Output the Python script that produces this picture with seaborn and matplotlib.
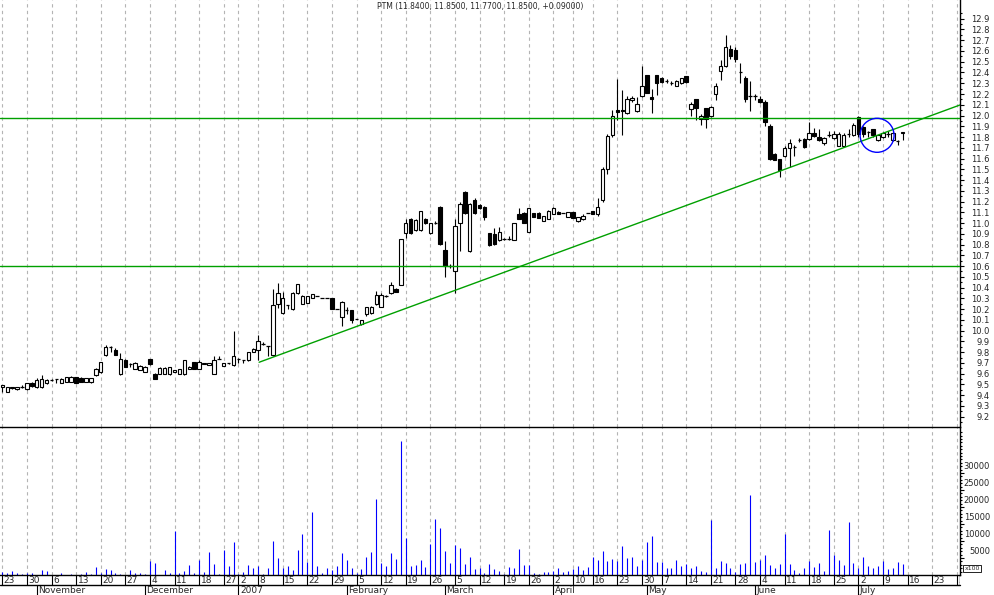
import matplotlib
matplotlib.use("Agg")
from matplotlib import pyplot as plt
from matplotlib.patches import Ellipse
from matplotlib.ticker import FixedLocator, FormatStrFormatter
import pandas as pd
import seaborn as sns

# daily candles, index 0 = 23 Oct 2006 ... 183 = 13 Jul 2007
opens = [9.48, 9.43, 9.475, 9.455, 9.48, 9.455, 9.51, 9.475, 9.48, 9.51,
         9.54, 9.55, 9.51, 9.52, 9.525, 9.565, 9.56, 9.525, 9.52, 9.59,
         9.62, 9.77, 9.85, 9.82, 9.60, 9.73, 9.69, 9.64, 9.635, 9.62,
         9.735, 9.60, 9.60, 9.60, 9.60, 9.62, 9.60, 9.60, 9.64, 9.71,
         9.64, 9.69, 9.68, 9.60, 9.74, 9.67, 9.70, 9.68, 9.74, 9.73,
         9.73, 9.80, 9.82, 9.88, 9.86, 9.77, 10.25, 10.16, 10.24, 10.20,
         10.35, 10.25, 10.26, 10.30, 10.32, 10.30, 10.30, 10.30, 10.20, 10.13,
         10.19, 10.19, 10.11, 10.06, 10.15, 10.16, 10.25, 10.22, 10.32, 10.35,
         10.39, 10.42, 10.91, 11.04, 10.94, 10.94, 11.04, 10.91, 11.00, 11.15,
         10.75, 10.60, 10.55, 11.00, 11.29, 10.74, 11.21, 11.17, 11.15, 10.91,
         10.90, 10.84, 10.85, 10.85, 10.84, 11.08, 11.09, 10.92, 11.09, 11.09,
         11.02, 11.04, 11.08, 11.10, 11.09, 11.06, 11.10, 11.02, 11.035, 11.09,
         11.11, 11.08, 11.21, 11.50, 11.82, 12.05, 12.05, 12.02, 12.14, 12.04,
         12.18, 12.38, 12.17, 12.38, 12.35, 12.32, 12.30, 12.275, 12.30, 12.37,
         12.06, 12.15, 11.97, 12.07, 12.00, 12.20, 12.41, 12.46, 12.62, 12.61,
         12.40, 12.35, 12.18, 12.18, 12.15, 12.13, 11.90, 11.64, 11.60, 11.62,
         11.70, 11.71, 11.77, 11.78, 11.78, 11.84, 11.80, 11.74, 11.82, 11.79,
         11.72, 11.72, 11.83, 11.82, 11.99, 11.89, 11.85, 11.87, 11.77, 11.80,
         11.83, 11.77, 11.76, 11.84]
highs = [9.49, 9.48, 9.48, 9.48, 9.49, 9.51, 9.52, 9.56, 9.59, 9.55,
         9.55, 9.55, 9.56, 9.57, 9.58, 9.57, 9.57, 9.56, 9.56, 9.65,
         9.71, 9.87, 9.86, 9.84, 9.79, 9.74, 9.70, 9.71, 9.68, 9.67,
         9.74, 9.61, 9.66, 9.66, 9.66, 9.63, 9.64, 9.73, 9.67, 9.71,
         9.73, 9.70, 9.70, 9.76, 9.76, 9.70, 9.70, 10.00, 9.75, 9.73,
         9.80, 9.84, 9.96, 9.89, 9.86, 10.39, 10.44, 10.36, 10.24, 10.36,
         10.43, 10.33, 10.32, 10.34, 10.32, 10.30, 10.30, 10.30, 10.20, 10.28,
         10.22, 10.19, 10.11, 10.10, 10.22, 10.23, 10.37, 10.35, 10.33, 10.45,
         10.40, 10.85, 11.04, 11.05, 11.04, 11.11, 11.05, 11.00, 11.02, 11.16,
         10.83, 10.62, 11.04, 11.20, 11.30, 11.19, 11.23, 11.18, 11.16, 10.91,
         10.95, 10.96, 10.86, 10.88, 11.00, 11.14, 11.10, 11.14, 11.09, 11.10,
         11.07, 11.12, 11.15, 11.11, 11.09, 11.10, 11.10, 11.06, 11.08, 11.09,
         11.11, 11.23, 11.52, 11.83, 12.05, 12.34, 12.24, 12.18, 12.18, 12.17,
         12.46, 12.38, 12.25, 12.38, 12.36, 12.34, 12.32, 12.33, 12.35, 12.37,
         12.13, 12.15, 12.01, 12.07, 12.09, 12.30, 12.52, 12.75, 12.66, 12.64,
         12.49, 12.37, 12.32, 12.20, 12.18, 12.14, 11.92, 11.65, 11.60, 11.72,
         11.78, 11.73, 11.79, 11.79, 11.94, 11.88, 11.87, 11.80, 11.86, 11.86,
         11.85, 11.84, 11.87, 11.93, 12.00, 11.90, 11.86, 11.87, 11.82, 11.85,
         11.86, 11.86, 11.77, 11.85]
lows = [9.43, 9.43, 9.46, 9.45, 9.47, 9.45, 9.48, 9.47, 9.47, 9.50,
        9.53, 9.51, 9.51, 9.52, 9.52, 9.51, 9.52, 9.52, 9.51, 9.58,
        9.61, 9.76, 9.80, 9.77, 9.59, 9.66, 9.66, 9.64, 9.63, 9.62,
        9.68, 9.55, 9.60, 9.60, 9.59, 9.62, 9.60, 9.59, 9.64, 9.64,
        9.64, 9.69, 9.68, 9.60, 9.74, 9.67, 9.69, 9.67, 9.70, 9.70,
        9.72, 9.80, 9.73, 9.87, 9.76, 9.76, 10.21, 10.15, 10.20, 10.19,
        10.34, 10.25, 10.26, 10.30, 10.32, 10.30, 10.30, 10.20, 10.20, 10.04,
        10.15, 10.07, 10.11, 10.05, 10.14, 10.15, 10.24, 10.22, 10.31, 10.34,
        10.36, 10.42, 10.86, 10.90, 10.93, 10.93, 10.99, 10.90, 10.99, 10.80,
        10.50, 10.58, 10.35, 10.74, 11.08, 10.73, 11.08, 11.13, 11.03, 10.79,
        10.80, 10.83, 10.84, 10.84, 10.84, 11.04, 11.00, 10.92, 11.06, 11.05,
        11.02, 11.04, 11.08, 11.08, 11.09, 11.06, 11.05, 11.01, 11.03, 11.09,
        11.08, 11.07, 11.20, 11.46, 11.80, 11.96, 11.82, 12.01, 12.13, 12.03,
        12.17, 12.21, 12.02, 12.19, 12.30, 12.30, 12.28, 12.27, 12.29, 12.30,
        12.00, 11.96, 11.91, 11.88, 11.99, 12.14, 12.33, 12.45, 12.53, 12.50,
        12.30, 12.13, 12.04, 12.14, 12.12, 11.90, 11.59, 11.59, 11.43, 11.61,
        11.52, 11.62, 11.75, 11.70, 11.77, 11.80, 11.76, 11.73, 11.80, 11.78,
        11.72, 11.71, 11.80, 11.81, 11.80, 11.80, 11.80, 11.80, 11.76, 11.79,
        11.80, 11.76, 11.73, 11.77]
closes = [9.49, 9.48, 9.47, 9.48, 9.48, 9.51, 9.485, 9.54, 9.55, 9.54,
          9.54, 9.55, 9.55, 9.57, 9.565, 9.51, 9.52, 9.555, 9.56, 9.64,
          9.71, 9.85, 9.85, 9.77, 9.74, 9.665, 9.69, 9.70, 9.67, 9.665,
          9.69, 9.55, 9.65, 9.65, 9.66, 9.63, 9.64, 9.73, 9.665, 9.64,
          9.71, 9.70, 9.70, 9.73, 9.74, 9.70, 9.70, 9.76, 9.74, 9.73,
          9.80, 9.83, 9.90, 9.88, 9.86, 10.24, 10.35, 10.30, 10.24, 10.35,
          10.43, 10.32, 10.32, 10.34, 10.32, 10.30, 10.30, 10.20, 10.20, 10.27,
          10.19, 10.10, 10.11, 10.10, 10.22, 10.22, 10.33, 10.33, 10.32, 10.42,
          10.36, 10.85, 11.00, 10.91, 11.03, 11.11, 11.00, 11.00, 11.00, 10.81,
          10.60, 10.60, 10.97, 11.18, 11.09, 11.18, 11.09, 11.14, 11.06, 10.80,
          10.81, 10.92, 10.85, 10.85, 11.00, 11.04, 11.00, 11.14, 11.06, 11.05,
          11.07, 11.11, 11.14, 11.08, 11.09, 11.10, 11.05, 11.06, 11.07, 11.09,
          11.08, 11.15, 11.50, 11.81, 12.00, 12.03, 12.04, 12.15, 12.16, 12.11,
          12.27, 12.21, 12.15, 12.30, 12.31, 12.32, 12.30, 12.32, 12.345, 12.31,
          12.11, 12.07, 12.00, 11.97, 12.08, 12.27, 12.46, 12.64, 12.55, 12.53,
          12.40, 12.15, 12.18, 12.18, 12.13, 11.94, 11.60, 11.59, 11.49, 11.70,
          11.74, 11.71, 11.77, 11.71, 11.84, 11.81, 11.77, 11.79, 11.82, 11.83,
          11.83, 11.82, 11.83, 11.91, 11.83, 11.83, 11.85, 11.82, 11.82, 11.84,
          11.83, 11.84, 11.76, 11.85]
volumes = [1000, 700, 1300, 700, 300, 700, 700, 100, 1500, 1300,
           0, 0, 700, 0, 300, 0, 300, 1000, 300, 2500,
           700, 1900, 1500, 700, 300, 0, 1500, 700, 700, 300,
           4200, 3600, 0, 1500, 700, 13000, 700, 1300, 2900, 700,
           4400, 1000, 6800, 3200, 300, 7400, 2600, 9700, 300, 1000,
           2900, 2200, 2600, 300, 2200, 10000, 5000, 2200, 2600, 1500,
           7400, 12100, 3900, 18500, 2600, 700, 2200, 1500, 2600, 6500,
           4400, 2200, 700, 1900, 5300, 6800, 22400, 3500, 2600, 6500,
           4700, 39400, 10900, 2600, 2900, 4400, 2400, 9100, 16500, 13800,
           7100, 3500, 8800, 7900, 3200, 5300, 1800, 2200, 700, 3200,
           1800, 1200, 300, 2400, 2100, 7600, 2900, 2900, 600, 300,
           900, 900, 1200, 2100, 900, 1200, 1800, 2600, 1500, 2400,
           5300, 4400, 7100, 4100, 4700, 4100, 8500, 5000, 5300, 2600,
           4400, 9700, 11500, 3800, 3800, 2100, 2100, 4400, 2600, 3200,
           2100, 2600, 1200, 900, 16200, 2100, 4100, 3500, 2100, 900,
           3200, 3500, 23500, 3800, 4400, 5900, 2900, 2100, 3200, 12100,
           3200, 1500, 600, 2100, 4100, 2400, 3500, 1200, 13200, 5900,
           4400, 2900, 15600, 3500, 2100, 5300, 2600, 2100, 2600, 4100,
           1800, 2100, 3800, 3200]

# date axis (trading-day positions of week starts and month starts)
week_idx = [0, 5, 10, 15, 20, 25, 30, 35, 40, 45, 48, 52, 57, 62, 67, 72, 77,
            82, 87, 92, 97, 102, 107, 112, 116, 120, 125, 130, 134, 139, 144,
            149, 154, 159, 164, 169, 174, 179, 184, 189, 194]
week_labels = ["23", "30", "6", "13", "20", "27", "4", "11", "18", "27", "2",
               "8", "15", "22", "29", "5", "12", "19", "26", "5", "12", "19",
               "26", "2", "10", "16", "23", "30", "7", "14", "21", "28", "4",
               "11", "18", "25", "2", "9", "16", "23", "30"]
month_idx = [7, 29, 48, 70, 90, 112, 131, 153, 174]
month_labels = ["November", "December", "2007", "February", "March", "April",
                "May", "June", "July"]

price_ticks = [9.2, 9.3, 9.4, 9.5, 9.6, 9.7, 9.8, 9.9, 10.0, 10.1, 10.2, 10.3,
               10.4, 10.5, 10.6, 10.7, 10.8, 10.9, 11.0, 11.1, 11.2, 11.3, 11.4,
               11.5, 11.6, 11.7, 11.8, 11.9, 12.0, 12.1, 12.2, 12.3, 12.4, 12.5,
               12.6, 12.7, 12.8, 12.9]
vol_ticks = [5000, 10000, 15000, 20000, 25000, 30000]

# drawn lines
support = [11.975, 10.60]
trend_x = [52.2, 194.65]
trend_y = [9.706, 12.098]
circle_xy = (177.8, 11.816)
title = "PTM (11.8400, 11.8500, 11.7700, 11.8500, +0.09000)"

df = pd.DataFrame({"o": opens, "h": highs, "l": lows, "c": closes, "v": volumes})

sns.set_theme(style="white")
plt.rcParams["font.family"] = ["Liberation Sans Narrow", "DejaVu Sans"]
plt.rcParams["font.size"] = 6

W, H = 994, 595
def rect(x0, y0, x1, y1):
    return [x0 / W, 1 - y1 / H, (x1 - x0) / W, (y1 - y0) / H]

fig = plt.figure(figsize=(9.94, 5.95), dpi=100)
axv = fig.add_axes(rect(0, 427, 960, 575))
axd = fig.add_axes(rect(0, 575, 960, 595))
ax = fig.add_axes(rect(0, 0, 960, 427))
for a in (axv, axd, ax):
    a.patch.set_visible(False)
fig.patch.set_facecolor("white")

x_lo, x_hi = -0.47, 194.65
for a in (ax, axv, axd):
    a.set_xlim(x_lo, x_hi)
    a.set_xticks([])

# week grid
for a in (ax, axv):
    for w in week_idx:
        a.axvline(w, color="#b4b4b4", lw=0.8, ls=(0, (3, 3)), zorder=0)

# candles
up = df.c > df.o + 0.004
down = df.c < df.o - 0.004
flat = ~(up | down)
ax.vlines(df.index, df.l, df.h, color="black", lw=0.8, zorder=2)
ax.bar(df.index[up], (df.c - df.o)[up], bottom=df.o[up], width=0.7,
       facecolor="white", edgecolor="black", lw=0.8, zorder=3)
ax.bar(df.index[down], (df.o - df.c)[down], bottom=df.c[down], width=0.7,
       facecolor="black", edgecolor="black", lw=0.8, zorder=3)
ax.hlines(df.c[flat], df.index[flat] - 0.35, df.index[flat] + 0.35,
          color="black", lw=0.9, zorder=3)

# support / trend lines and circle
for s in support:
    ax.axhline(s, color="#00a000", lw=1.0, zorder=4)
sns.lineplot(x=trend_x, y=trend_y, ax=ax, color="#00a000", lw=1.0, zorder=4)
ax.add_patch(Ellipse(circle_xy, width=6.9, height=0.316, fill=False,
                     edgecolor="#0000ff", lw=1.0, zorder=5))

ax.set_ylim(9.104, 13.074)
ax.yaxis.tick_right()
ax.yaxis.set_major_locator(FixedLocator(price_ticks))
ax.yaxis.set_minor_locator(FixedLocator([t - 0.05 for t in price_ticks] + [12.95]))
ax.yaxis.set_major_formatter(FormatStrFormatter("%.1f"))
ax.tick_params(axis="y", which="major", direction="out", length=3, width=0.8,
               color="black", pad=18.5, labelsize=6)
ax.tick_params(axis="y", which="minor", direction="out", length=1.6, width=0.8,
               color="black")
for lab in ax.get_yticklabels():
    lab.set_horizontalalignment("right")

# volume
axv.vlines(df.index, 0, df.v, color="#0000ff", lw=0.8, zorder=2)
axv.set_ylim(0, 43530)
axv.yaxis.tick_right()
axv.yaxis.set_major_locator(FixedLocator(vol_ticks))
axv.yaxis.set_minor_locator(FixedLocator([1000 * k for k in range(1, 43)]))
axv.tick_params(axis="y", which="major", direction="out", length=3, width=0.8,
                color="black", labelright=False)
axv.tick_params(axis="y", which="minor", direction="out", length=1.6, width=0.8,
                color="black")
# labels sit a little above their ticks in the original
for v in vol_ticks:
    axv.text(1.03125, v + 2000, str(v), transform=axv.get_yaxis_transform(),
             ha="right", va="center", fontsize=6)
axv.text(1.0045, 2000, "x100", transform=axv.get_yaxis_transform(),
         ha="left", va="center", fontsize=4.5,
         bbox=dict(boxstyle="square,pad=0.15", fc="white", ec="black", lw=0.6))

for a in (ax, axv):
    for side in ("left", "top"):
        a.spines[side].set_visible(False)
    for side in ("right", "bottom"):
        a.spines[side].set_color("black")
        a.spines[side].set_linewidth(1.0)

# date band
axd.set_ylim(0, 1)
axd.set_yticks([])
for side in ("left", "top", "right", "bottom"):
    axd.spines[side].set_visible(False)
axd.axhline(0.5, color="black", lw=1.0, clip_on=False)
axd.vlines(week_idx, 0.5, 1, color="black", lw=0.8)
for w, lab in zip(week_idx, week_labels):
    axd.text(w + 0.3, 0.73, lab, ha="left", va="center", fontsize=6.5, clip_on=True)
axd.vlines(month_idx, 0, 0.5, color="black", lw=0.8)
for m, lab in zip(month_idx, month_labels):
    axd.text(m + 0.3, 0.22, lab, ha="left", va="center", fontsize=6.5, clip_on=True)
axd.plot([x_hi, x_hi], [0.5, 1], color="black", lw=1.0)

fig.text(480 / W, 1 - 7 / H, title, ha="center", va="center", fontsize=5.5)

fig.savefig("out.png", dpi=100)
